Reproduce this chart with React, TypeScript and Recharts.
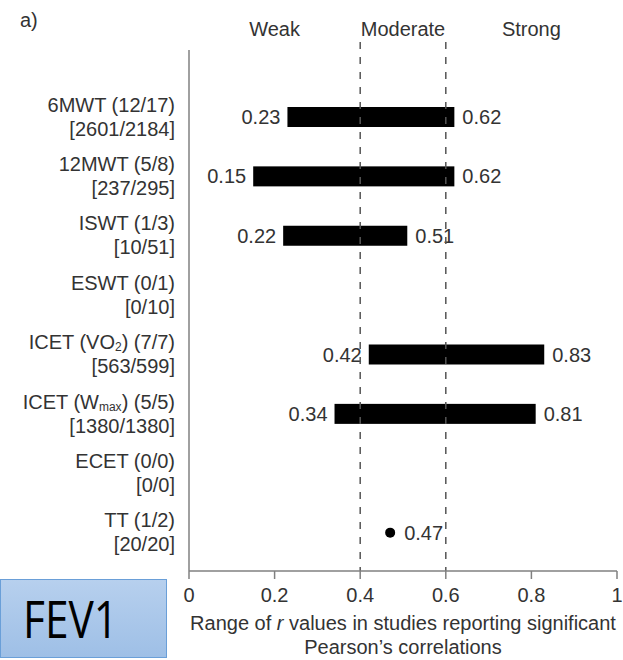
import React from 'react';
import { ComposedChart, Bar, XAxis, YAxis, ReferenceLine, Label } from 'recharts';

const testNames = ['6MWT', '12MWT', 'ISWT', 'ESWT', 'ICET (VO_{2})', 'ICET (W_{max})', 'ECET', 'TT'];
const studyCounts = ['12/17', '5/8', '1/3', '0/1', '7/7', '5/5', '0/0', '1/2'];
const sampleSizes = ['2601/2184', '237/295', '10/51', '0/10', '563/599', '1380/1380', '0/0', '20/20'];
const rLow: (number | null)[] = [0.23, 0.15, 0.22, null, 0.42, 0.34, null, 0.47];
const rHigh: (number | null)[] = [0.62, 0.62, 0.51, null, 0.83, 0.81, null, 0.47];
const xTicks = [0, 0.2, 0.4, 0.6, 0.8, 1];
const strengthNames = ['Weak', 'Moderate', 'Strong'];
const strengthCenters = [0.2, 0.5, 0.8];
const cutoffs = [0.4, 0.6];
const panelLetter = 'a)';
const outcomeName = 'FEV1';

const data = testNames.map((name, i) => ({
  name,
  counts: studyCounts[i],
  samples: sampleSizes[i],
  low: rLow[i],
  high: rHigh[i],
  range: rLow[i] == null ? null : [rLow[i], rHigh[i]],
}));

const TEXT = '#333333';
const AXIS = '#808080';
const FONT = 20;

const renderParts = (s: string) => {
  const parts = s.split(/_\{([^}]*)\}/);
  return parts.map((p, k) => {
    if (k % 2 === 1) {
      return (
        <tspan key={k} fontSize={12} dy={5}>
          {p}
        </tspan>
      );
    }
    return (
      <tspan key={k} dy={k > 0 ? -5 : 0}>
        {p}
      </tspan>
    );
  });
};

const YTick = (props: any) => {
  const { x, y, index } = props;
  const d = data[index];
  if (!d) return null;
  return (
    <g>
      <text x={x} y={y - 12} textAnchor="end" dominantBaseline="central" fill={TEXT} fontSize={FONT}>
        {renderParts(d.name)}
        <tspan> ({d.counts})</tspan>
      </text>
      <text x={x} y={y + 12} textAnchor="end" dominantBaseline="central" fill={TEXT} fontSize={FONT}>
        [{d.samples}]
      </text>
    </g>
  );
};

const fmt = (v: number) => String(v);

const RangeShape = (props: any) => {
  const { x, y, width, height, payload } = props;
  if (!payload || payload.low == null) return null;
  const cy = y + height / 2;
  if (payload.low === payload.high) {
    return (
      <g>
        <circle cx={x} cy={cy} r={5} fill="#000" />
        <text x={x + 14} y={cy} dominantBaseline="central" fill={TEXT} fontSize={FONT}>
          {fmt(payload.high)}
        </text>
      </g>
    );
  }
  return (
    <g>
      <rect x={x} y={y} width={width} height={height} fill="#000" />
      <text x={x - 7} y={cy} textAnchor="end" dominantBaseline="central" fill={TEXT} fontSize={FONT}>
        {fmt(payload.low)}
      </text>
      <text x={x + width + 8} y={cy} dominantBaseline="central" fill={TEXT} fontSize={FONT}>
        {fmt(payload.high)}
      </text>
    </g>
  );
};

const DashedCutoff = (props: any) => {
  const { x1, y1, x2, y2 } = props;
  const top = Math.min(y1, y2) - 8;
  const bottom = Math.max(y1, y2);
  return <line x1={x1} x2={x2} y1={top} y2={bottom} stroke="#555" strokeWidth={1.5} strokeDasharray="7 8" />;
};

const XTitle = (props: any) => {
  const vb = props.viewBox || {};
  const cx = vb.x + vb.width / 2;
  const y = vb.y;
  return (
    <g>
      <text x={cx} y={y + 59} textAnchor="middle" fill={TEXT} fontSize={FONT}>
        Range of <tspan fontStyle="italic">r</tspan> values in studies reporting significant
      </text>
      <text x={cx} y={y + 83} textAnchor="middle" fill={TEXT} fontSize={FONT}>
        Pearson’s correlations
      </text>
    </g>
  );
};

export default function App() {
  return (
    <div
      style={{
        position: 'absolute',
        left: 0,
        top: 0,
        width: 623,
        height: 660,
        background: '#fff',
        fontFamily: '"Liberation Sans", Arial, sans-serif',
      }}
    >
      <ComposedChart
        width={623}
        height={660}
        data={data}
        layout="vertical"
        margin={{ top: 50, right: 6, bottom: 0, left: 0 }}
      >
        <XAxis
          type="number"
          domain={[0, 1]}
          ticks={xTicks}
          interval={0}
          tickFormatter={(v: number) => String(v)}
          axisLine={{ stroke: AXIS, strokeWidth: 1.5 }}
          tickLine={{ stroke: AXIS, strokeWidth: 1.5 }}
          tickSize={8}
          tickMargin={9}
          height={89}
          tick={{ fill: TEXT, fontSize: FONT }}
        >
          <Label content={<XTitle />} />
        </XAxis>
        <YAxis
          type="category"
          dataKey="name"
          width={189}
          interval={0}
          tickLine={false}
          tickSize={0}
          tickMargin={14}
          axisLine={{ stroke: AXIS, strokeWidth: 1.5 }}
          padding={{ top: 37, bottom: 9 }}
          tick={<YTick />}
        />
        {strengthCenters.map((c, i) => (
          <ReferenceLine
            key={'s' + c}
            x={c}
            stroke="none"
            ifOverflow="visible"
            label={{ value: strengthNames[i], position: 'top', offset: 14, fill: TEXT, fontSize: FONT }}
          />
        ))}
        {cutoffs.map((c) => (
          <ReferenceLine key={c} x={c} shape={<DashedCutoff />} ifOverflow="visible" />
        ))}
        <Bar dataKey="range" barSize={20} shape={<RangeShape />} isAnimationActive={false} />
      </ComposedChart>
      <div
        style={{
          position: 'absolute',
          left: 20,
          top: 8,
          fontSize: 20,
          color: TEXT,
          lineHeight: '24px',
        }}
      >
        {panelLetter}
      </div>
      <svg style={{ position: 'absolute', left: 0, top: 579 }} width={170} height={81}>
        <defs>
          <linearGradient id="fevfill" x1="0" y1="0" x2="0" y2="1">
            <stop offset="0" stopColor="#b7d0ee" />
            <stop offset="1" stopColor="#9ebfe6" />
          </linearGradient>
        </defs>
        <rect x={0.5} y={0.5} width={166} height={78} fill="url(#fevfill)" stroke="#6a9fd8" strokeWidth={1} />
        <text
          x={23}
          y={59}
          fontFamily='"Open Sans", "Noto Sans", sans-serif'
          fontSize={51}
          fill="#000"
          textLength={95}
          lengthAdjust="spacingAndGlyphs"
        >
          {outcomeName}
        </text>
      </svg>
    </div>
  );
}
